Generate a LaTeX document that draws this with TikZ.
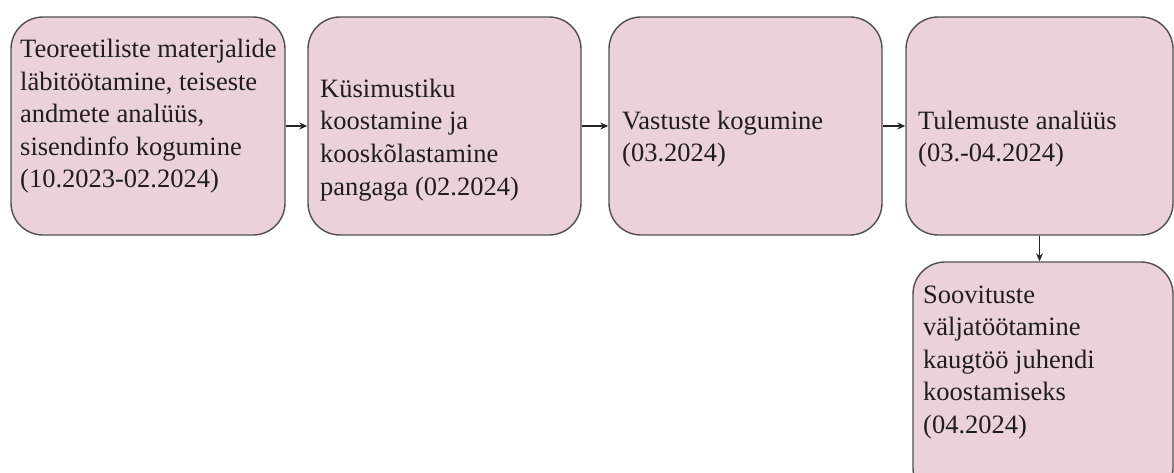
\documentclass[tikz,border=0pt]{standalone}
\usepackage{fontspec}
\setmainfont{Liberation Serif}
\usetikzlibrary{arrows.meta}
\definecolor{boxfill}{RGB}{234,209,220}
\definecolor{boxline}{RGB}{80,80,80}
\definecolor{txt}{RGB}{30,30,30}
\tikzset{
  stagebox/.style={draw=boxline, line width=1.4pt, fill=boxfill, rounded corners=32pt, inner sep=0pt},
  stagetext/.style={anchor=base west, align=left, inner sep=0pt, text=txt, font=\fontsize{26.5}{32.5}\selectfont},
  flow/.style={draw=black!85, line width=1.4pt, -{Stealth[length=8pt,width=7pt]}}
}
\begin{document}
\begin{tikzpicture}[x=1pt,y=1pt]
\useasboundingbox (0,0) rectangle (1174,472);
\clip (0,0) rectangle (1174,472);
\node[stagebox, minimum width=274pt, minimum height=218pt] (b1) at (148,346) {};
\node[stagebox, minimum width=273pt, minimum height=218pt] (b2) at (444.5,346) {};
\node[stagebox, minimum width=273pt, minimum height=218pt] (b3) at (745.5,346) {};
\node[stagebox, minimum width=267pt, minimum height=218pt] (b4) at (1039.5,346) {};
\node[stagebox, minimum width=260pt, minimum height=238pt] (b5) at (1043,91) {};
\node[stagetext] (t1) at (20,284) {Teoreetiliste materjalide\\läbitöötamine, teiseste\\andmete analüüs,\\sisendinfo kogumine\\(10.2023-02.2024)};
\node[stagetext] (t2) at (320,277) {Küsimustiku\\koostamine ja\\kooskõlastamine\\pangaga (02.2024)};
\node[stagetext] (t3) at (622,310) {Vastuste kogumine\\(03.2024)};
\node[stagetext] (t4) at (918,310) {Tulemuste analüüs\\(03.-04.2024)};
\node[stagetext] (t5) at (923,39) {Soovituste\\väljatöötamine\\kaugtöö juhendi\\koostamiseks\\(04.2024)};
\draw[flow] (b1.east) -- (b2.west);
\draw[flow] (b2.east) -- (b3.west);
\draw[flow] (b3.east) -- (b4.west);
\draw[flow] (b4.south) -- (b4.south |- b5.north);
\end{tikzpicture}
\end{document}
